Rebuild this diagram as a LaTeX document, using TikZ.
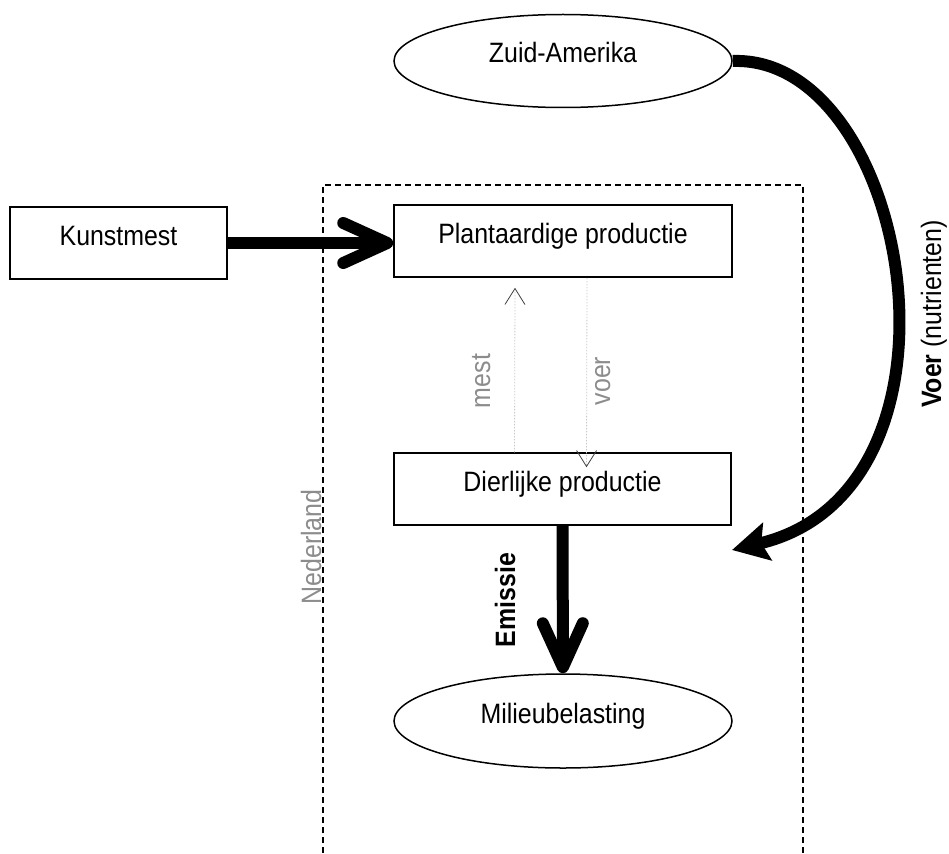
\documentclass[tikz,border=0pt]{standalone}
\usepackage{fontspec}
\setmainfont[FakeStretch=0.89]{Liberation Sans}
\usetikzlibrary{
  arrows.meta, % voor pijlpunten
  shapes.geometric % voor ellipsen
}

\begin{document}
\begin{tikzpicture}[
    x=1pt, y=-1pt, % pixelmaten, y naar beneden
    font=\fontsize{28}{33}\selectfont,
    box/.style={draw, line width=1.5pt, rectangle, minimum height=72pt,
      text height=20pt, text depth=16pt, inner sep=0pt}, % blokken
    blob/.style={draw, line width=1.5pt, ellipse, minimum width=338pt,
      minimum height=93pt, text height=20pt, text depth=16pt, inner sep=0pt},
    bigflow/.style={line width=12pt, -{Straight Barb[length=44pt, width=40pt, round]}},
    thinflow/.style={black!22, line width=0.8pt, dash pattern=on 1.5pt off 1.5pt,
      -{Straight Barb[length=16pt, width=20pt, color=black!75]}},
    lbl/.style={rotate=90, anchor=base}, % verticale tekst
  ]

    \useasboundingbox (0,0) rectangle (949,853);

    % Knopen
    \node[blob] (zuid) at (563,61) {Zuid-Amerika};
    \node[box, minimum width=217pt] (kunst) at (118.5,243) {Kunstmest};
    \node[box, minimum width=338pt] (plant) at (563,241) {Plantaardige productie};
    \node[box, minimum width=337pt] (dier) at (562.5,489) {Dierlijke productie};
    \node[blob, minimum height=94pt] (milieu) at (563,721) {Milieubelasting};

    % Grens Nederland
    \draw[line width=1.5pt, dash pattern=on 6pt off 4pt]
      (323,853) -- (323,185) -- (803,185) -- (803,853);
    \node[lbl, text=black!45] (nl) at (321,547) {Nederland};

    % Stromen
    \draw[bigflow] (kunst.east) -- (kunst.east -| plant.west);
    \draw[bigflow] (dier) -- (milieu);

    \coordinate (voertip) at (732,550);
    \draw[line width=12pt, -{Stealth[length=36pt, width=38pt, inset=6pt]}]
      (zuid.east) .. controls (910,55) and (985,490) .. (voertip);

    \draw[thinflow] ([xshift=-48pt]dier.north) -- ([xshift=-48pt,yshift=-10pt]plant.south);
    \draw[thinflow] ([xshift=24pt]plant.south) -- ([xshift=24pt,yshift=-15pt]dier.north);

    % Labels
    \node[lbl, text=black!45] (mestlbl) at (490,381) {mest};
    \node[lbl, text=black!45] (voerlbl) at (610,381) {voer};
    \node[lbl, font=\fontsize{28}{33}\selectfont\bfseries] (emlbl) at (515,600) {Emissie};
    \node[lbl] (voerflow) at (941,314) {\textbf{Voer} (nutrienten)};
  \end{tikzpicture}
\end{document}
